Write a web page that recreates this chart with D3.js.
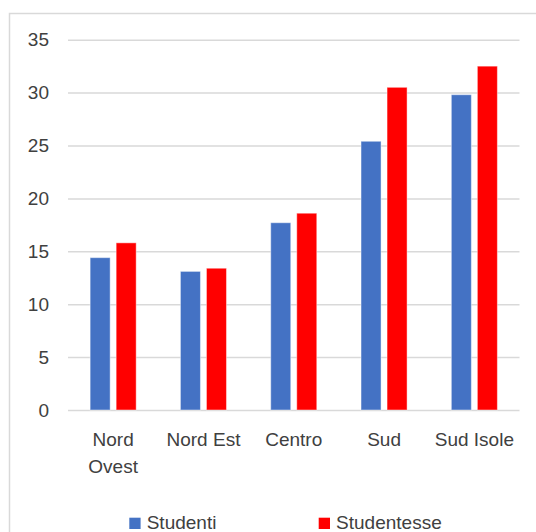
<!DOCTYPE html>
<html>
<head>
<meta charset="utf-8">
<script src="https://cdn.jsdelivr.net/npm/d3@7"></script>
<style>
  html, body { margin: 0; padding: 0; background: #ffffff; }
  svg { display: block; }
  text { font-family: "Liberation Sans", Arial, sans-serif; fill: #404040; }
</style>
</head>
<body>
<svg id="chart" width="536" height="532"></svg>
<script>
const categories = ["Nord Ovest", "Nord Est", "Centro", "Sud", "Sud Isole"];
const seriesNames = ["Studenti", "Studentesse"];
const studenti = [14.4, 13.1, 17.7, 25.4, 29.8];
const studentesse = [15.8, 13.4, 18.6, 30.5, 32.5];
const seriesColors = ["#4472C4", "#FF0000"];
const yTicks = [0, 5, 10, 15, 20, 25, 30, 35];

const seriesValues = [studenti, studentesse];
const table = categories.map((c, i) => ({
  category: c,
  values: seriesNames.map((s, j) => ({ series: s, value: seriesValues[j][i], color: seriesColors[j] }))
}));

const svg = d3.select("#chart");
const W = 536, H = 532;
const plot = { left: 68, right: 519.5, top: 39.7, bottom: 410 };
const fontSize = 19;

// chart frame
svg.append("rect")
  .attr("x", 9.5).attr("y", 13.5)
  .attr("width", W + 20).attr("height", H + 20)
  .attr("fill", "#ffffff")
  .attr("stroke", "#d9d9d9").attr("stroke-width", 1.5);

const x0 = d3.scaleBand()
  .domain(categories)
  .range([plot.left, plot.right])
  .paddingInner(0.49)
  .paddingOuter(0.245);

const x1 = d3.scaleBand()
  .domain(seriesNames)
  .range([0, x0.bandwidth()])
  .paddingInner(0.2308)
  .paddingOuter(0);

const y = d3.scaleLinear().domain([0, 35]).range([plot.bottom, plot.top]);

// gridlines
const grid = svg.append("g")
  .attr("transform", `translate(${plot.left},0)`)
  .call(d3.axisLeft(y).tickValues(yTicks).tickSize(-(plot.right - plot.left)).tickFormat(""));
grid.select(".domain").remove();
grid.selectAll("line").attr("stroke", "#d9d9d9").attr("stroke-width", 1.5);

// y axis labels
const yAxis = svg.append("g")
  .attr("transform", `translate(${plot.left},0)`)
  .call(d3.axisLeft(y).tickValues(yTicks).tickSize(0).tickPadding(19));
yAxis.select(".domain").remove();
yAxis.selectAll("text")
  .attr("font-size", fontSize)
  .attr("font-family", "Liberation Sans, Arial, sans-serif")
  .attr("fill", "#404040");

// bars
const groups = svg.append("g").selectAll("g")
  .data(table)
  .join("g")
  .attr("transform", d => `translate(${x0(d.category)},0)`);

groups.selectAll("rect")
  .data(d => d.values)
  .join("rect")
  .attr("x", d => x1(d.series))
  .attr("width", x1.bandwidth())
  .attr("y", d => y(d.value))
  .attr("height", d => y(0) - y(d.value))
  .attr("fill", d => d.color)
  .attr("stroke", "#ffffff")
  .attr("stroke-opacity", 0.45)
  .attr("stroke-width", 1);

// x axis labels
const xAxis = svg.append("g")
  .attr("transform", `translate(0,${plot.bottom})`)
  .call(d3.axisBottom(x0).tickSize(0).tickPadding(23));
xAxis.select(".domain").remove();
xAxis.selectAll("text")
  .attr("font-size", fontSize)
  .attr("font-family", "Liberation Sans, Arial, sans-serif")
  .attr("fill", "#404040")
  .each(function() { wrap(d3.select(this), x0.step()); });

function wrap(text, width) {
  const words = text.text().split(/\s+/);
  const yAttr = text.attr("y");
  const dyAttr = parseFloat(text.attr("dy")) || 0;
  text.text(null);
  let line = [];
  let lineNo = 0;
  let tspan = text.append("tspan").attr("x", 0).attr("y", yAttr).attr("dy", dyAttr + "em");
  words.forEach(w => {
    line.push(w);
    tspan.text(line.join(" "));
    if (tspan.node().getComputedTextLength() > width && line.length > 1) {
      line.pop();
      tspan.text(line.join(" "));
      line = [w];
      lineNo++;
      tspan = text.append("tspan").attr("x", 0).attr("y", yAttr)
        .attr("dy", (lineNo * 1.4 + dyAttr) + "em").text(w);
    }
  });
}

// legend
const legendStartX = 129.3, legendStep = 189.4, legendY = 517.7, sw = 11.3;
const legend = svg.append("g").selectAll("g")
  .data(seriesNames.map((s, i) => ({ name: s, color: seriesColors[i] })))
  .join("g")
  .attr("transform", (d, i) => `translate(${legendStartX + i * legendStep},${legendY})`);
legend.append("rect")
  .attr("width", sw).attr("height", sw)
  .attr("fill", d => d.color);
legend.append("text")
  .attr("x", 17.4).attr("y", 11.3)
  .attr("font-size", fontSize)
  .text(d => d.name);
</script>
</body>
</html>
